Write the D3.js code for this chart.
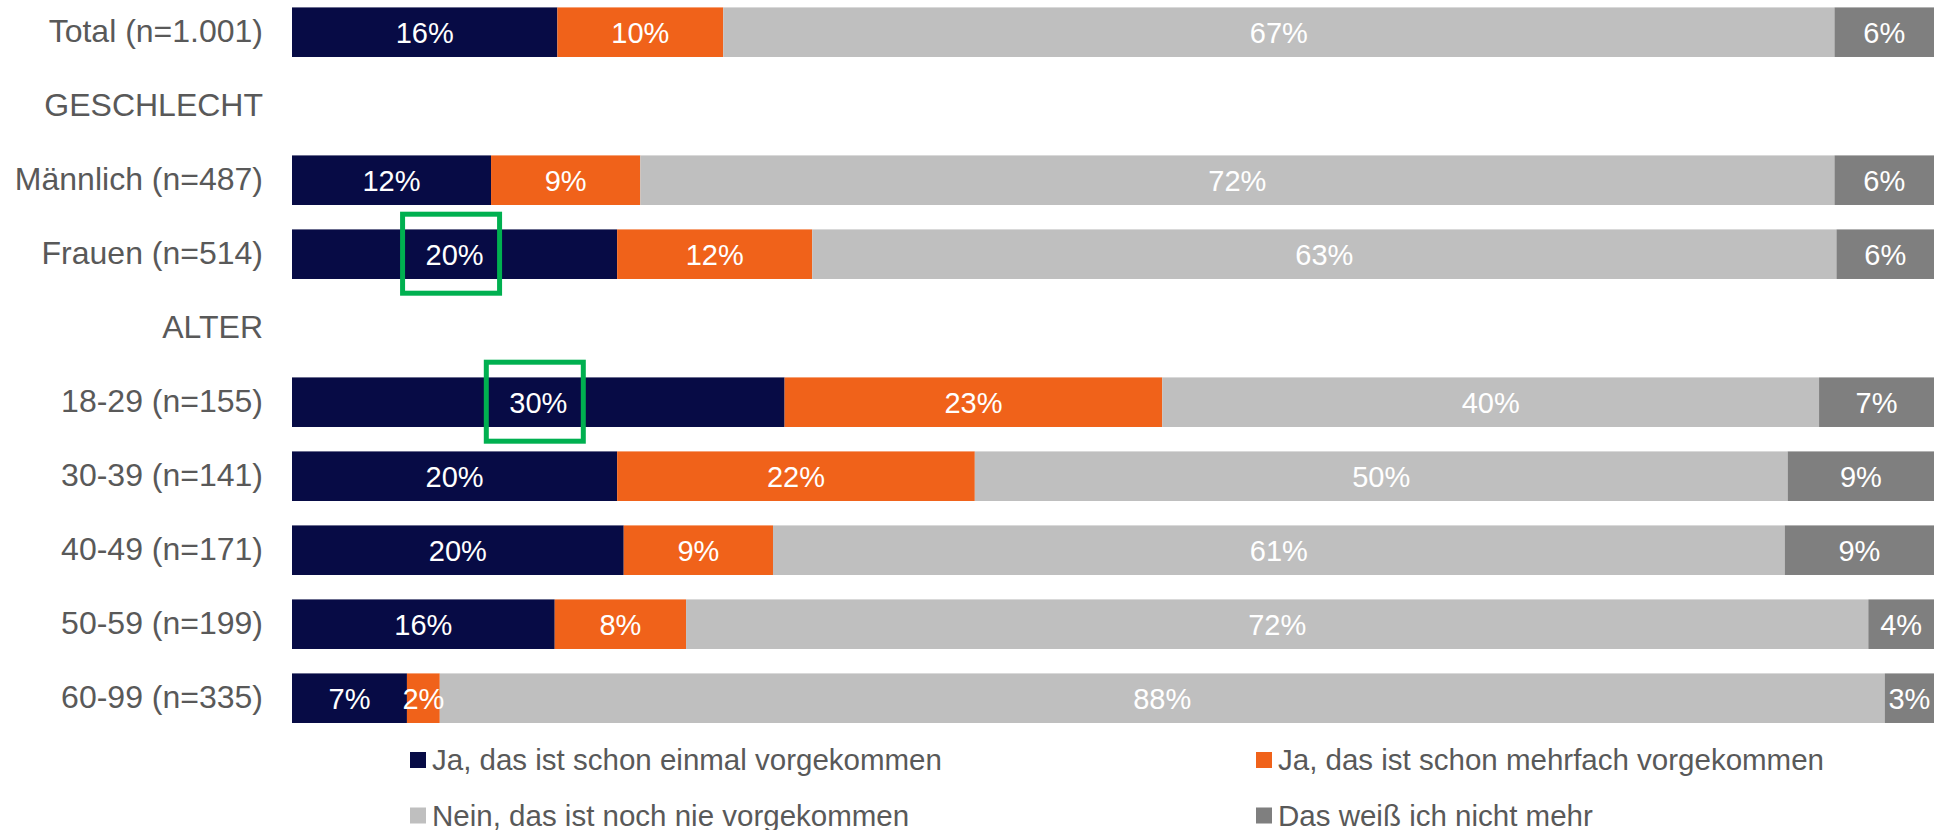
<!DOCTYPE html>
<html>
<head>
<meta charset="utf-8">
<script src="https://cdn.jsdelivr.net/npm/d3@7"></script>
<style>
    body { margin: 0; background: #fff; }
    svg { display: block; font-family: "Liberation Sans", Arial, sans-serif; }
    .cat-label { fill: #595959; font-size: 32px; }
    .bar-label { fill: #fff; font-size: 29px; }
    .legend-label { fill: #595959; font-size: 29.5px; }
</style>
</head>
<body>
<svg id="chart" width="1938" height="830"></svg>
<script>
// rows of the chart, the header rows carry no data
var categories = ["Total (n=1.001)", "GESCHLECHT", "Männlich (n=487)", "Frauen (n=514)", "ALTER",
    "18-29 (n=155)", "30-39 (n=141)", "40-49 (n=171)", "50-59 (n=199)", "60-99 (n=335)"];
var seriesNames = ["Ja, das ist schon einmal vorgekommen", "Ja, das ist schon mehrfach vorgekommen",
    "Nein, das ist noch nie vorgekommen", "Das weiß ich nicht mehr"];
var einmal     = [16, null, 12, 20, null, 30, 20, 20, 16, 7];
var mehrfach   = [10, null,  9, 12, null, 23, 22,  9,  8, 2];
var nie        = [67, null, 72, 63, null, 40, 50, 61, 72, 88];
var weissNicht = [ 6, null,  6,  6, null,  7,  9,  9,  4, 3];
// green boxes drawn round two labels of the first series
var highlights = ["Frauen (n=514)", "18-29 (n=155)"];

var colors = ["#070b45", "#f0621a", "#bfbfbf", "#7f7f7f"];
var seriesValues = [einmal, mehrfach, nie, weissNicht];

function buildTable(){
    return categories.map(function(c, i){
        var row = {'category': c, 'header': einmal[i] == null};
        seriesNames.forEach(function(s, j){ row[s] = seriesValues[j][i] || 0; });
        return row;
    });
}

function drawChart(svg){
    var table = buildTable();
    var dataRows = table.filter(function(d){ return !d.header; });

    var x = d3.scaleLinear().domain([0, 1]).range([292, 1934]);
    var y = d3.scaleBand().domain(categories).range([-4.8, 735.2])
        .paddingInner(0.33).paddingOuter(0.165);

    // 100% stacked: each row is scaled to its own sum
    var stack = d3.stack().keys(seriesNames).offset(d3.stackOffsetExpand);
    var layers = stack(dataRows);

    var g = svg.append('g');

    // Bars
    var layer = g.selectAll('g.layer').data(layers).enter().append('g')
        .attr('class', 'layer')
        .attr('fill', function(d, i){ return colors[i]; });

    layer.selectAll('rect').data(function(d){ return d; }).enter().append('rect')
        .attr('x', function(d){ return x(d[0]); })
        .attr('y', function(d){ return y(d.data.category); })
        .attr('width', function(d){ return x(d[1]) - x(d[0]); })
        .attr('height', y.bandwidth());

    // Bar labels
    layers.forEach(function(l){
        g.selectAll(null).data(l).enter().append('text')
            .attr('class', 'bar-label')
            .attr('text-anchor', 'middle')
            .attr('x', function(d){ return (x(d[0]) + x(d[1])) / 2; })
            .attr('y', function(d){ return y(d.data.category) + y.bandwidth() / 2; })
            .attr('dy', '0.37em')
            .text(function(d){ return d.data[l.key] + "%"; });
    });

    // Category axis labels
    var axis = d3.axisLeft(y).tickSize(0).tickPadding(0);
    var ax = svg.append('g').attr('transform', "translate(263,0)").call(axis);
    ax.select('.domain').remove();
    ax.selectAll('text')
        .attr('class', 'cat-label')
        .attr('fill', null)
        .attr('font-size', null)
        .attr('font-family', null)
        .attr('dy', '0.3em');

    // Highlight boxes
    var first = layers[0];
    var boxes = first.filter(function(d){ return highlights.indexOf(d.data.category) >= 0; });
    g.selectAll('rect.hl').data(boxes).enter().append('rect')
        .attr('class', 'hl')
        .attr('x', function(d){ return (x(d[0]) + x(d[1])) / 2 - 52; })
        .attr('y', function(d){ return y(d.data.category) + y.bandwidth() / 2 - 40; })
        .attr('width', 97)
        .attr('height', 79)
        .attr('fill', 'none')
        .attr('stroke', '#00b050')
        .attr('stroke-width', 5);

    // Legend
    var legendX = [410, 1256];
    var legendY = [760, 815.5];
    var legend = svg.selectAll('g.legend').data(seriesNames).enter().append('g')
        .attr('class', 'legend')
        .attr('transform', function(d, i){
            return "translate(" + legendX[i % 2] + "," + legendY[Math.floor(i / 2)] + ")";
        });
    legend.append('rect')
        .attr('x', 0).attr('y', -8)
        .attr('width', 16).attr('height', 16)
        .attr('fill', function(d, i){ return colors[i]; });
    legend.append('text')
        .attr('class', 'legend-label')
        .attr('x', 22)
        .attr('dy', '0.35em')
        .text(function(d){ return d; });
}

drawChart(d3.select('#chart'));
</script>
</body>
</html>
